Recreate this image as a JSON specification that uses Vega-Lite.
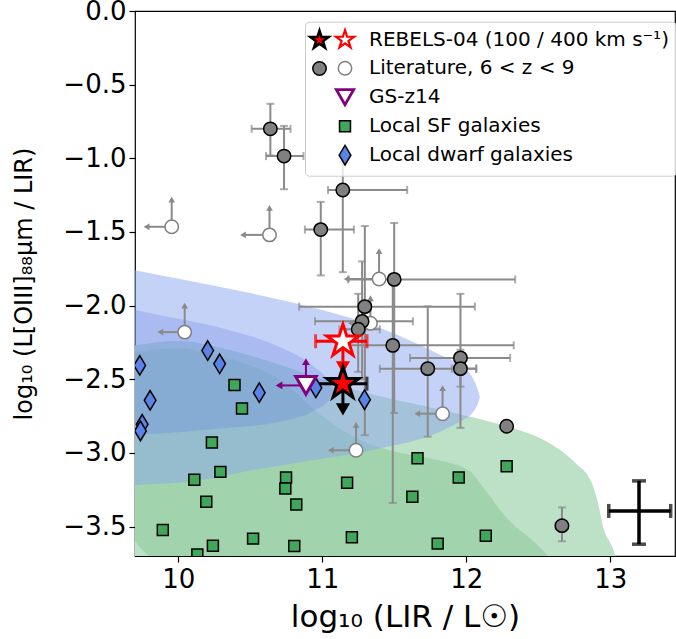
{
  "$schema": "https://vega.github.io/schema/vega-lite/v6.json",
  "width": 540,
  "height": 545,
  "autosize": {"type": "none"},
  "padding": {"left": 135, "top": 11, "right": 1, "bottom": 83},
  "background": "white",
  "config": {
    "font": "DejaVu Sans",
    "view": {"stroke": "black", "strokeWidth": 1.2},
    "axis": {
      "labelFont": "DejaVu Sans", "titleFont": "DejaVu Sans",
      "labelFontSize": 26, "titleFontWeight": "normal",
      "labelColor": "black", "titleColor": "black", "tickColor": "black",
      "tickSize": 6, "tickWidth": 1.2, "grid": false, "domain": false
    },
    "axisX": {"titleFontSize": 31},
    "axisY": {"titleFontSize": 24}
  },
  "datasets": {
    "g1": [
      {"x": 9.6, "top": -2.29, "bot": -3.8}, {"x": 9.7, "top": -2.27, "bot": -3.8},
      {"x": 10.0, "top": -2.24, "bot": -3.8}, {"x": 10.35, "top": -2.3, "bot": -3.8},
      {"x": 10.7, "top": -2.4, "bot": -3.8}, {"x": 11.0, "top": -2.5, "bot": -3.8},
      {"x": 11.3, "top": -2.59, "bot": -3.8}, {"x": 11.7, "top": -2.68, "bot": -3.8},
      {"x": 12.05, "top": -2.76, "bot": -3.8}, {"x": 12.28, "top": -2.82, "bot": -3.8},
      {"x": 12.57, "top": -2.93, "bot": -3.8}, {"x": 12.76, "top": -3.07, "bot": -3.8},
      {"x": 12.87, "top": -3.2, "bot": -3.8}, {"x": 12.92, "top": -3.36, "bot": -3.8},
      {"x": 12.95, "top": -3.5, "bot": -3.8}, {"x": 13.01, "top": -3.63, "bot": -3.8},
      {"x": 13.045, "top": -3.72, "bot": -3.8}, {"x": 13.07, "top": -3.8, "bot": -3.8}
    ],
    "g2": [
      {"x": 9.6, "top": -2.34, "bot": -3.45}, {"x": 9.7, "top": -2.32, "bot": -3.6},
      {"x": 9.82, "top": -2.3, "bot": -3.72}, {"x": 10.0, "top": -2.29, "bot": -3.8},
      {"x": 10.35, "top": -2.36, "bot": -3.8}, {"x": 10.7, "top": -2.5, "bot": -3.8},
      {"x": 11.0, "top": -2.75, "bot": -3.8}, {"x": 11.3, "top": -2.93, "bot": -3.8},
      {"x": 11.5, "top": -2.99, "bot": -3.8}, {"x": 11.76, "top": -3.04, "bot": -3.8},
      {"x": 12.02, "top": -3.12, "bot": -3.8}, {"x": 12.13, "top": -3.25, "bot": -3.8},
      {"x": 12.29, "top": -3.45, "bot": -3.8}, {"x": 12.5, "top": -3.63, "bot": -3.8},
      {"x": 12.58, "top": -3.72, "bot": -3.8}, {"x": 12.62, "top": -3.8, "bot": -3.8}
    ],
    "b1": [
      {"x": 9.6, "top": -1.74, "bot": -3.23}, {"x": 9.7, "top": -1.76, "bot": -3.22},
      {"x": 10.12, "top": -1.84, "bot": -3.19}, {"x": 10.5, "top": -1.915, "bot": -3.12},
      {"x": 11.0, "top": -2.03, "bot": -3.04}, {"x": 11.4, "top": -2.15, "bot": -2.97},
      {"x": 11.81, "top": -2.33, "bot": -2.86}, {"x": 11.95, "top": -2.4, "bot": -2.79},
      {"x": 12.05, "top": -2.5, "bot": -2.72}, {"x": 12.08, "top": -2.57, "bot": -2.67},
      {"x": 12.095, "top": -2.62, "bot": -2.62}
    ],
    "b2": [
      {"x": 9.6, "top": -2.01, "bot": -2.89}, {"x": 9.7, "top": -2.03, "bot": -2.88},
      {"x": 10.0, "top": -2.09, "bot": -2.86}, {"x": 10.35, "top": -2.165, "bot": -2.83},
      {"x": 10.7, "top": -2.28, "bot": -2.79}, {"x": 10.95, "top": -2.42, "bot": -2.71},
      {"x": 11.05, "top": -2.52, "bot": -2.64}, {"x": 11.08, "top": -2.58, "bot": -2.58}
    ],
    "det": [
      {"x": 10.64, "y": -0.8, "xlo": 10.51, "xhi": 10.78, "ylo": -0.98, "yhi": -0.63, "g": "Literature detected"},
      {"x": 10.735, "y": -0.985, "xlo": 10.61, "xhi": 10.87, "ylo": -1.21, "yhi": -0.78, "g": "Literature detected"},
      {"x": 11.143, "y": -1.215, "xlo": 11.04, "xhi": 11.59, "ylo": -1.773, "yhi": -1.025, "g": "Literature detected"},
      {"x": 10.99, "y": -1.484, "xlo": 10.88, "xhi": 11.22, "ylo": -1.795, "yhi": -1.296, "g": "Literature detected"},
      {"x": 11.5, "y": -1.822, "xlo": 11.18, "xhi": 12.34, "ylo": -2.73, "yhi": -1.44, "g": "Literature detected"},
      {"x": 11.296, "y": -2.007, "xlo": 10.84, "xhi": 12.06, "ylo": -2.88, "yhi": -1.46, "g": "Literature detected"},
      {"x": 11.277, "y": -2.107, "xlo": 10.95, "xhi": 11.63, "ylo": -2.5, "yhi": -1.7, "g": "Literature detected"},
      {"x": 11.25, "y": -2.161, "xlo": 11.12, "xhi": 11.4, "ylo": -2.45, "yhi": -1.92, "g": "Literature detected"},
      {"x": 11.49, "y": -2.27, "xlo": 11.19, "xhi": 12.33, "ylo": -3.34, "yhi": -1.82, "g": "Literature detected"},
      {"x": 11.96, "y": -2.355, "xlo": 11.61, "xhi": 12.305, "ylo": -2.83, "yhi": -1.92, "g": "Literature detected"},
      {"x": 11.96, "y": -2.428, "xlo": 11.9, "xhi": 12.07, "ylo": -2.55, "yhi": -2.3, "g": "Literature detected"},
      {"x": 11.733, "y": -2.428, "xlo": 11.4, "xhi": 12.07, "ylo": -2.89, "yhi": -2.005, "g": "Literature detected"},
      {"x": 12.281, "y": -2.819, "g": "Literature detected"},
      {"x": 12.665, "y": -3.494, "xlo": 12.62, "xhi": 12.7, "ylo": -3.6, "yhi": -3.37, "g": "Literature detected"}
    ],
    "pa": [
      {"x": 9.955, "y": -1.465, "xa": 9.78, "ya": -1.28, "g": "Literature, 6 < z < 9"},
      {"x": 10.634, "y": -1.52, "xa": 10.45, "ya": -1.337, "g": "Literature, 6 < z < 9"},
      {"x": 11.395, "y": -1.82, "xa": 11.17, "ya": -1.63, "g": "Literature, 6 < z < 9"},
      {"x": 11.335, "y": -2.12, "xa": 11.2, "ya": -1.95, "g": "Literature, 6 < z < 9"},
      {"x": 10.045, "y": -2.18, "xa": 9.876, "ya": -2.0, "g": "Literature, 6 < z < 9"},
      {"x": 11.836, "y": -2.734, "xa": 11.66, "ya": -2.56, "g": "Literature, 6 < z < 9"},
      {"x": 11.235, "y": -2.982, "xa": 11.06, "ya": -2.81, "g": "Literature, 6 < z < 9"},
      {"x": 10.391, "y": -2.539, "g": "Local SF galaxies"},
      {"x": 10.443, "y": -2.698, "g": "Local SF galaxies"},
      {"x": 10.234, "y": -2.93, "g": "Local SF galaxies"},
      {"x": 10.293, "y": -3.129, "g": "Local SF galaxies"},
      {"x": 10.112, "y": -3.183, "g": "Local SF galaxies"},
      {"x": 10.749, "y": -3.167, "g": "Local SF galaxies"},
      {"x": 10.744, "y": -3.242, "g": "Local SF galaxies"},
      {"x": 11.173, "y": -3.203, "g": "Local SF galaxies"},
      {"x": 11.662, "y": -3.036, "g": "Local SF galaxies"},
      {"x": 11.948, "y": -3.167, "g": "Local SF galaxies"},
      {"x": 12.281, "y": -3.09, "g": "Local SF galaxies"},
      {"x": 10.195, "y": -3.332, "g": "Local SF galaxies"},
      {"x": 10.82, "y": -3.35, "g": "Local SF galaxies"},
      {"x": 11.626, "y": -3.298, "g": "Local SF galaxies"},
      {"x": 9.893, "y": -3.524, "g": "Local SF galaxies"},
      {"x": 10.241, "y": -3.63, "g": "Local SF galaxies"},
      {"x": 10.52, "y": -3.582, "g": "Local SF galaxies"},
      {"x": 10.806, "y": -3.632, "g": "Local SF galaxies"},
      {"x": 11.206, "y": -3.573, "g": "Local SF galaxies"},
      {"x": 11.802, "y": -3.616, "g": "Local SF galaxies"},
      {"x": 12.136, "y": -3.562, "g": "Local SF galaxies"},
      {"x": 10.133, "y": -3.69, "g": "Local SF galaxies"},
      {"x": 9.733, "y": -2.406, "g": "Local dwarf galaxies"},
      {"x": 10.205, "y": -2.305, "g": "Local dwarf galaxies"},
      {"x": 10.288, "y": -2.395, "g": "Local dwarf galaxies"},
      {"x": 10.563, "y": -2.591, "g": "Local dwarf galaxies"},
      {"x": 9.805, "y": -2.643, "g": "Local dwarf galaxies"},
      {"x": 9.75, "y": -2.806, "g": "Local dwarf galaxies"},
      {"x": 9.738, "y": -2.851, "g": "Local dwarf galaxies"},
      {"x": 10.956, "y": -2.558, "g": "Local dwarf galaxies"},
      {"x": 11.294, "y": -2.639, "g": "Local dwarf galaxies"}
    ],
    "reb": [
      {"x": 11.144, "y": -2.53, "xlo": 10.954, "xhi": 11.311, "yend": -2.705, "v": "100"},
      {"x": 11.144, "y": -2.242, "xlo": 10.954, "xhi": 11.311, "yend": -2.42, "v": "400"}
    ],
    "gs": [{"x": 10.887, "y": -2.542, "xa": 10.7, "ya": -2.38}],
    "mean": [{"x": 13.2, "y": -3.394, "xlo": 12.99, "xhi": 13.42, "ylo": -3.62, "yhi": -3.19}]
  },
  "layer": [
    {
      "data": {"name": "g1"},
      "mark": {"type": "area", "color": "#bde1c6", "opacity": 1, "interpolate": "monotone", "clip": true},
      "encoding": {
        "x": {"field": "x", "type": "quantitative", "title": "log₁₀ (LIR / L☉)",
          "scale": {"domain": [9.7, 13.45], "nice": false, "zero": false},
          "axis": {"values": [10, 11, 12, 13], "format": "d", "labelPadding": 4, "titlePadding": 10}},
        "y": {"field": "top", "type": "quantitative", "title": "log₁₀ (L[OIII]₈₈μm / LIR)",
          "scale": {"domain": [-3.7, 0], "nice": false, "zero": false},
          "axis": {"values": [0, -0.5, -1, -1.5, -2, -2.5, -3, -3.5], "format": ".1f", "labelExpr": "replace(datum.label, '-', '−')", "labelPadding": 3, "titlePadding": 26}},
        "y2": {"field": "bot"}
      }
    },
    {
      "data": {"name": "g2"},
      "mark": {"type": "area", "color": "#a1d4ad", "opacity": 1, "interpolate": "monotone", "clip": true},
      "encoding": {
        "x": {"field": "x", "type": "quantitative"},
        "y": {"field": "top", "type": "quantitative"},
        "y2": {"field": "bot"}
      }
    },
    {
      "data": {"name": "b1"},
      "mark": {"type": "area", "color": "#8ca6f0", "opacity": 0.5, "interpolate": "monotone", "clip": true},
      "encoding": {
        "x": {"field": "x", "type": "quantitative"},
        "y": {"field": "top", "type": "quantitative"},
        "y2": {"field": "bot"}
      }
    },
    {
      "data": {"name": "b2"},
      "mark": {"type": "area", "color": "#6183e1", "opacity": 0.28, "interpolate": "monotone", "clip": true},
      "encoding": {
        "x": {"field": "x", "type": "quantitative"},
        "y": {"field": "top", "type": "quantitative"},
        "y2": {"field": "bot"}
      }
    },
    {
      "data": {"name": "det"},
      "transform": [{"filter": "isValid(datum.xlo)"}],
      "mark": {"type": "errorbar", "ticks": true, "color": "#8a8a8a", "thickness": 2, "size": 8},
      "encoding": {
        "x": {"field": "xlo", "type": "quantitative", "title": "log₁₀ (LIR / L☉)"},
        "x2": {"field": "xhi"},
        "y": {"field": "y", "type": "quantitative", "title": "log₁₀ (L[OIII]₈₈μm / LIR)"}
      }
    },
    {
      "data": {"name": "det"},
      "transform": [{"filter": "isValid(datum.ylo)"}],
      "mark": {"type": "errorbar", "ticks": true, "color": "#8a8a8a", "thickness": 2, "size": 8},
      "encoding": {
        "y": {"field": "ylo", "type": "quantitative", "title": "log₁₀ (L[OIII]₈₈μm / LIR)"},
        "y2": {"field": "yhi"},
        "x": {"field": "x", "type": "quantitative", "title": "log₁₀ (LIR / L☉)"}
      }
    },
    {
      "data": {"name": "pa"},
      "transform": [{"filter": "isValid(datum.xa)"}],
      "mark": {"type": "rule", "color": "#8a8a8a", "strokeWidth": 2},
      "encoding": {
        "x": {"field": "x", "type": "quantitative"},
        "x2": {"field": "xa"},
        "y": {"field": "y", "type": "quantitative"}
      }
    },
    {
      "data": {"name": "pa"},
      "transform": [{"filter": "isValid(datum.xa)"}],
      "mark": {"type": "rule", "color": "#8a8a8a", "strokeWidth": 2},
      "encoding": {
        "y": {"field": "y", "type": "quantitative"},
        "y2": {"field": "ya"},
        "x": {"field": "x", "type": "quantitative"}
      }
    },
    {
      "data": {"name": "pa"},
      "transform": [{"filter": "isValid(datum.xa)"}],
      "mark": {"type": "point", "shape": "triangle-left", "filled": true, "color": "#8a8a8a", "size": 45, "opacity": 1},
      "encoding": {
        "x": {"field": "xa", "type": "quantitative"},
        "y": {"field": "y", "type": "quantitative"}
      }
    },
    {
      "data": {"name": "pa"},
      "transform": [{"filter": "isValid(datum.xa)"}],
      "mark": {"type": "point", "shape": "triangle-up", "filled": true, "color": "#8a8a8a", "size": 45, "opacity": 1},
      "encoding": {
        "x": {"field": "x", "type": "quantitative"},
        "y": {"field": "ya", "type": "quantitative"}
      }
    },
    {
      "data": {"name": "gs"},
      "mark": {"type": "rule", "color": "purple", "strokeWidth": 2},
      "encoding": {
        "x": {"field": "x", "type": "quantitative"},
        "x2": {"field": "xa"},
        "y": {"field": "y", "type": "quantitative"}
      }
    },
    {
      "data": {"name": "gs"},
      "mark": {"type": "rule", "color": "purple", "strokeWidth": 2},
      "encoding": {
        "y": {"field": "y", "type": "quantitative"},
        "y2": {"field": "ya"},
        "x": {"field": "x", "type": "quantitative"}
      }
    },
    {
      "data": {"name": "gs"},
      "mark": {"type": "point", "shape": "triangle-left", "filled": true, "color": "purple", "size": 60, "opacity": 1},
      "encoding": {
        "x": {"field": "xa", "type": "quantitative"},
        "y": {"field": "y", "type": "quantitative"}
      }
    },
    {
      "data": {"name": "gs"},
      "mark": {"type": "point", "shape": "triangle-up", "filled": true, "color": "purple", "size": 60, "opacity": 1},
      "encoding": {
        "x": {"field": "x", "type": "quantitative"},
        "y": {"field": "ya", "type": "quantitative"}
      }
    },
    {
      "data": {"name": "reb"},
      "mark": {"type": "rule", "strokeWidth": 3},
      "encoding": {
        "y": {"field": "y", "type": "quantitative"},
        "y2": {"field": "yend"},
        "x": {"field": "x", "type": "quantitative"},
        "color": {"field": "v", "type": "nominal", "scale": {"domain": ["100", "400"], "range": ["black", "red"]}, "legend": null}
      }
    },
    {
      "data": {"name": "reb"},
      "mark": {"type": "point", "shape": "triangle-down", "filled": true, "size": 200, "opacity": 1},
      "encoding": {
        "y": {"field": "yend", "type": "quantitative"},
        "x": {"field": "x", "type": "quantitative"},
        "color": {"field": "v", "type": "nominal", "scale": {"domain": ["100", "400"], "range": ["black", "red"]}, "legend": null}
      }
    },
    {
      "data": {"name": "reb"},
      "transform": [{"filter": "datum.v == '400'"}],
      "mark": {"type": "errorbar", "ticks": true, "color": "red", "thickness": 3, "size": 14},
      "encoding": {
        "x": {"field": "xlo", "type": "quantitative", "title": "log₁₀ (LIR / L☉)"},
        "x2": {"field": "xhi"},
        "y": {"field": "y", "type": "quantitative", "title": "log₁₀ (L[OIII]₈₈μm / LIR)"}
      }
    },
    {
      "data": {"name": "reb"},
      "transform": [{"filter": "datum.v == '100'"}],
      "mark": {"type": "errorbar", "ticks": true, "color": "black", "thickness": 3, "size": 14},
      "encoding": {
        "x": {"field": "xlo", "type": "quantitative", "title": "log₁₀ (LIR / L☉)"},
        "x2": {"field": "xhi"},
        "y": {"field": "y", "type": "quantitative", "title": "log₁₀ (L[OIII]₈₈μm / LIR)"}
      }
    },
    {
      "data": {"name": "pa"},
      "mark": {"type": "point", "filled": true, "opacity": 1, "clip": true},
      "encoding": {
        "x": {"field": "x", "type": "quantitative"},
        "y": {"field": "y", "type": "quantitative"},
        "shape": {"field": "g", "type": "nominal",
          "scale": {"domain": ["REBELS-04 (100 / 400 km s⁻¹)", "Literature, 6 < z < 9", "GS-z14", "Local SF galaxies", "Local dwarf galaxies"],
            "range": ["M0,-1L0.2245,-0.309L0.9511,-0.309L0.3633,0.118L0.5878,0.809L0,0.382L-0.5878,0.809L-0.3633,0.118L-0.9511,-0.309L-0.2245,-0.309Z", "circle", "triangle-down", "square", "M0,-1L0.6,0L0,1L-0.6,0Z"]},
          "legend": {"title": null, "orient": "none", "legendX": 170, "legendY": 10.7, "padding": 7, "symbolOffset": 22, "labelOffset": 13, "rowPadding": 5.5,
            "labelFont": "DejaVu Sans", "labelFontSize": 20, "labelColor": "black", "labelLimit": 400,
            "fillColor": "rgba(255,255,255,0.8)", "strokeColor": "#cccccc", "cornerRadius": 4,
            "encode": {"symbols": {"x": {"value": {"expr": "datum.index >= 2 ? 21 : 33"}}}}}},
        "fill": {"field": "g", "type": "nominal",
          "scale": {"domain": ["REBELS-04 (100 / 400 km s⁻¹)", "Literature, 6 < z < 9", "GS-z14", "Local SF galaxies", "Local dwarf galaxies"],
            "range": ["white", "white", "white", "#3fa65a", "#5b82e6"]}},
        "stroke": {"field": "g", "type": "nominal",
          "scale": {"domain": ["REBELS-04 (100 / 400 km s⁻¹)", "Literature, 6 < z < 9", "GS-z14", "Local SF galaxies", "Local dwarf galaxies"],
            "range": ["red", "#808080", "purple", "black", "black"]}},
        "size": {"field": "g", "type": "nominal",
          "scale": {"type": "ordinal", "domain": ["REBELS-04 (100 / 400 km s⁻¹)", "Literature, 6 < z < 9", "GS-z14", "Local SF galaxies", "Local dwarf galaxies"],
            "range": [360, 180, 300, 120, 380]}},
        "strokeWidth": {"field": "g", "type": "nominal",
          "scale": {"type": "ordinal", "domain": ["REBELS-04 (100 / 400 km s⁻¹)", "Literature, 6 < z < 9", "GS-z14", "Local SF galaxies", "Local dwarf galaxies"],
            "range": [2.2, 1.5, 2.8, 1.5, 1.5]}}
      }
    },
    {
      "data": {"name": "det"},
      "mark": {"type": "point", "filled": true, "opacity": 1, "clip": true},
      "encoding": {
        "x": {"field": "x", "type": "quantitative"},
        "y": {"field": "y", "type": "quantitative"},
        "shape": {"field": "g", "type": "nominal",
          "scale": {"domain": ["REBELS-04 detected", "Literature detected"],
            "range": ["M0,-1L0.2245,-0.309L0.9511,-0.309L0.3633,0.118L0.5878,0.809L0,0.382L-0.5878,0.809L-0.3633,0.118L-0.9511,-0.309L-0.2245,-0.309Z", "circle"]},
          "legend": {"title": null, "orient": "none", "legendX": 173.5, "legendY": 18, "padding": 0, "rowPadding": 5.5,
            "labelFont": "DejaVu Sans", "labelFontSize": 20, "labelExpr": "''"}},
        "fill": {"field": "g", "type": "nominal",
          "scale": {"domain": ["REBELS-04 detected", "Literature detected"], "range": ["red", "#808080"]}},
        "stroke": {"field": "g", "type": "nominal",
          "scale": {"domain": ["REBELS-04 detected", "Literature detected"], "range": ["black", "black"]}},
        "size": {"field": "g", "type": "nominal",
          "scale": {"type": "ordinal", "domain": ["REBELS-04 detected", "Literature detected"], "range": [360, 180]}},
        "strokeWidth": {"field": "g", "type": "nominal",
          "scale": {"type": "ordinal", "domain": ["REBELS-04 detected", "Literature detected"], "range": [2.5, 1.5]}}
      }
    },
    {
      "data": {"name": "gs"},
      "mark": {"type": "point", "shape": "triangle-down", "filled": true, "fill": "white", "stroke": "purple", "strokeWidth": 3, "size": 420, "opacity": 1},
      "encoding": {
        "x": {"field": "x", "type": "quantitative"},
        "y": {"field": "y", "type": "quantitative"}
      }
    },
    {
      "data": {"name": "reb"},
      "transform": [{"filter": "datum.v == '400'"}],
      "mark": {"type": "point", "shape": "M0,-1L0.2245,-0.309L0.9511,-0.309L0.3633,0.118L0.5878,0.809L0,0.382L-0.5878,0.809L-0.3633,0.118L-0.9511,-0.309L-0.2245,-0.309Z", "filled": true, "fill": "white", "stroke": "red", "strokeWidth": 3, "size": 1150, "opacity": 1},
      "encoding": {
        "x": {"field": "x", "type": "quantitative"},
        "y": {"field": "y", "type": "quantitative"}
      }
    },
    {
      "data": {"name": "reb"},
      "transform": [{"filter": "datum.v == '100'"}],
      "mark": {"type": "point", "shape": "M0,-1L0.2245,-0.309L0.9511,-0.309L0.3633,0.118L0.5878,0.809L0,0.382L-0.5878,0.809L-0.3633,0.118L-0.9511,-0.309L-0.2245,-0.309Z", "filled": true, "fill": "red", "stroke": "black", "strokeWidth": 3, "size": 1150, "opacity": 1},
      "encoding": {
        "x": {"field": "x", "type": "quantitative"},
        "y": {"field": "y", "type": "quantitative"}
      }
    },
    {
      "data": {"name": "mean"},
      "mark": {"type": "errorbar", "ticks": true, "color": "black", "thickness": 3.5, "size": 14},
      "encoding": {
        "x": {"field": "xlo", "type": "quantitative", "title": "log₁₀ (LIR / L☉)"},
        "x2": {"field": "xhi"},
        "y": {"field": "y", "type": "quantitative", "title": "log₁₀ (L[OIII]₈₈μm / LIR)"}
      }
    },
    {
      "data": {"name": "mean"},
      "mark": {"type": "errorbar", "ticks": true, "color": "black", "thickness": 3.5, "size": 14},
      "encoding": {
        "y": {"field": "ylo", "type": "quantitative", "title": "log₁₀ (L[OIII]₈₈μm / LIR)"},
        "y2": {"field": "yhi"},
        "x": {"field": "x", "type": "quantitative", "title": "log₁₀ (LIR / L☉)"}
      }
    }
  ],
  "resolve": {"scale": {"shape": "independent", "fill": "independent", "stroke": "independent", "size": "independent", "strokeWidth": "independent", "color": "independent"}}
}
